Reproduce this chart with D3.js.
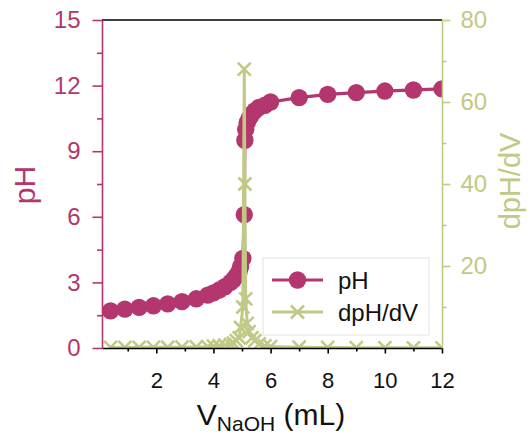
<!DOCTYPE html>
<html><head><meta charset="utf-8">
<script src="https://cdn.jsdelivr.net/npm/d3@7"></script>
<style>
body{margin:0;background:#fff;}
text{font-family:"Liberation Sans",Arial,Helvetica,sans-serif;}
</style></head>
<body><svg id="chart" width="530" height="439"></svg>
<script>
// Data
const volume = [0.4, 0.9, 1.4, 1.9, 2.4, 2.9, 3.4, 3.8, 4.0, 4.2, 4.4, 4.6, 4.7, 4.8, 4.9, 4.95, 5.03, 5.08, 5.1, 5.13, 5.18, 5.25, 5.35, 5.45, 5.6, 5.8, 6.0, 7, 8, 9, 10, 11, 12];
const pH     = [1.7, 1.78, 1.86, 1.93, 2.02, 2.12, 2.25, 2.42, 2.52, 2.65, 2.8, 3.0, 3.12, 3.3, 3.5, 3.72, 4.1, 6.1, 9.5, 10.0, 10.3, 10.5, 10.7, 10.85, 11.0, 11.1, 11.25, 11.45, 11.6, 11.68, 11.75, 11.8, 11.85];
const dpHdV  = [0.15, 0.15, 0.16, 0.17, 0.18, 0.2, 0.26, 0.33, 0.45, 0.55, 0.7, 0.9, 1.2, 1.8, 2.5, 5, 10, 68, 40, 12, 6, 4, 2.5, 1.8, 1.0, 0.5, 0.35, 0.2, 0.15, 0.08, 0.07, 0.05, 0.05];
const xTicks = [2, 4, 6, 8, 10, 12];
const xMinor = [1, 3, 5, 7, 9, 11];
const pHTicks = [0, 3, 6, 9, 12, 15];
const pHMinor = [1.5, 4.5, 7.5, 10.5, 13.5];
const dTicks = [20, 40, 60, 80];
const dMinor = [10, 30, 50, 70];
const legendLabels = ["pH", "dpH/dV"];

const MAG = "#b3376e", GRN = "#c2c986";
const svg = d3.select("#chart");
const L = 102, R = 442, T = 20, B = 348;
const x = d3.scaleLinear().domain([0.1, 12]).range([L, R]);
const yL = d3.scaleLinear().domain([0, 15]).range([B, T]);
const yR = d3.scaleLinear().domain([0, 80]).range([B, T]);

svg.append("defs").append("clipPath").attr("id", "clip")
  .append("rect").attr("x", L).attr("y", T).attr("width", R - L).attr("height", B - T);

const data = volume.map((v, i) => ({v, p: pH[i], d: dpHdV[i]}));
const plot = svg.append("g").attr("clip-path", "url(#clip)");

// pH series
plot.append("path").datum(data)
  .attr("d", d3.line().x(d => x(d.v)).y(d => yL(d.p)))
  .attr("fill", "none").attr("stroke", MAG).attr("stroke-width", 3.2);
plot.selectAll("circle.ph").data(data).join("circle").attr("class", "ph")
  .attr("cx", d => x(d.v)).attr("cy", d => yL(d.p)).attr("r", 8.7).attr("fill", MAG);

// dpH/dV series
const xm = "M-6.5,-6.5L6.5,6.5M-6.5,6.5L6.5,-6.5";
plot.append("path").datum(data)
  .attr("d", d3.line().x(d => x(d.v)).y(d => yR(d.d)))
  .attr("fill", "none").attr("stroke", GRN).attr("stroke-width", 3);
plot.selectAll("path.dm").data(data).join("path").attr("class", "dm")
  .attr("d", xm).attr("transform", d => `translate(${x(d.v)},${yR(d.d)})`)
  .attr("fill", "none").attr("stroke", GRN).attr("stroke-width", 2.6);

// Legend
const lg = svg.append("g");
lg.append("rect").attr("x", 263).attr("y", 258).attr("width", 166).attr("height", 77)
  .attr("fill", "#fff").attr("stroke", "#e4e4e4").attr("stroke-width", 1);
lg.append("line").attr("x1", 272).attr("x2", 323).attr("y1", 280).attr("y2", 280).attr("stroke", MAG).attr("stroke-width", 3.2);
lg.append("circle").attr("cx", 297.5).attr("cy", 280).attr("r", 8.7).attr("fill", MAG);
lg.append("line").attr("x1", 272).attr("x2", 323).attr("y1", 312).attr("y2", 312).attr("stroke", GRN).attr("stroke-width", 3);
lg.append("path").attr("d", xm).attr("transform", "translate(297.5,312)").attr("fill", "none").attr("stroke", GRN).attr("stroke-width", 2.6);
lg.selectAll("text").data(legendLabels).join("text")
  .attr("x", 338).attr("y", (d, i) => 280 + i * 32 + 8.5)
  .attr("font-size", 24).attr("fill", "#111").text(d => d);

// Top frame line
svg.append("line").attr("x1", L).attr("x2", R).attr("y1", T).attr("y2", T).attr("stroke", "#000").attr("stroke-width", 1.6);

// Axes
function styleAxis(g, color, w) {
  g.select(".domain").attr("stroke", color).attr("stroke-width", w);
  g.selectAll(".tick line").attr("stroke", color).attr("stroke-width", w);
}
const gxm = svg.append("g").attr("transform", `translate(0,${B})`)
  .call(d3.axisBottom(x).tickValues(xMinor).tickSize(3.5).tickFormat(""));
styleAxis(gxm, "#000", 1.6); gxm.select(".domain").remove();
const gx = svg.append("g").attr("transform", `translate(0,${B})`)
  .call(d3.axisBottom(x).tickValues(xTicks).tickSize(5.5).tickSizeOuter(0).tickPadding(19));
styleAxis(gx, "#000", 1.6);
gx.selectAll("text").attr("font-size", 22).attr("fill", "#111");

const gym = svg.append("g").attr("transform", `translate(${L},0)`)
  .call(d3.axisLeft(yL).tickValues(pHMinor).tickSize(5).tickFormat(""));
styleAxis(gym, MAG, 1.6); gym.select(".domain").remove();
const gy = svg.append("g").attr("transform", `translate(${L},0)`)
  .call(d3.axisLeft(yL).tickValues(pHTicks).tickSize(9.5).tickSizeOuter(0).tickPadding(12));
styleAxis(gy, MAG, 1.6);
gy.selectAll("text").attr("font-size", 24).attr("fill", MAG);

const grm = svg.append("g").attr("transform", `translate(${R},0)`)
  .call(d3.axisRight(yR).tickValues(dMinor).tickSize(4.5).tickFormat(""));
styleAxis(grm, GRN, 1.6); grm.select(".domain").remove();
const gr = svg.append("g").attr("transform", `translate(${R},0)`)
  .call(d3.axisRight(yR).tickValues(dTicks).tickSize(8.5).tickSizeOuter(0).tickPadding(10));
styleAxis(gr, GRN, 1.6);
gr.selectAll("text").attr("font-size", 24).attr("fill", GRN);

// Axis titles
svg.append("text").attr("transform", "translate(27.5,185) rotate(-90)")
  .attr("text-anchor", "middle").attr("dy", "0.25em").attr("font-size", 30).attr("fill", MAG).text("pH");
svg.append("text").attr("transform", "translate(513,181) rotate(-90)")
  .attr("text-anchor", "middle").attr("dy", "0.25em").attr("font-size", 29).attr("fill", GRN).text("dpH/dV");
const xt = svg.append("text").attr("x", 271).attr("y", 425).attr("text-anchor", "middle")
  .attr("font-size", 30).attr("fill", "#111");
xt.append("tspan").text("V");
xt.append("tspan").attr("font-size", 21).attr("dy", 6).text("NaOH");
xt.append("tspan").attr("dy", -6).text(" (mL)");
</script>
</body></html>
